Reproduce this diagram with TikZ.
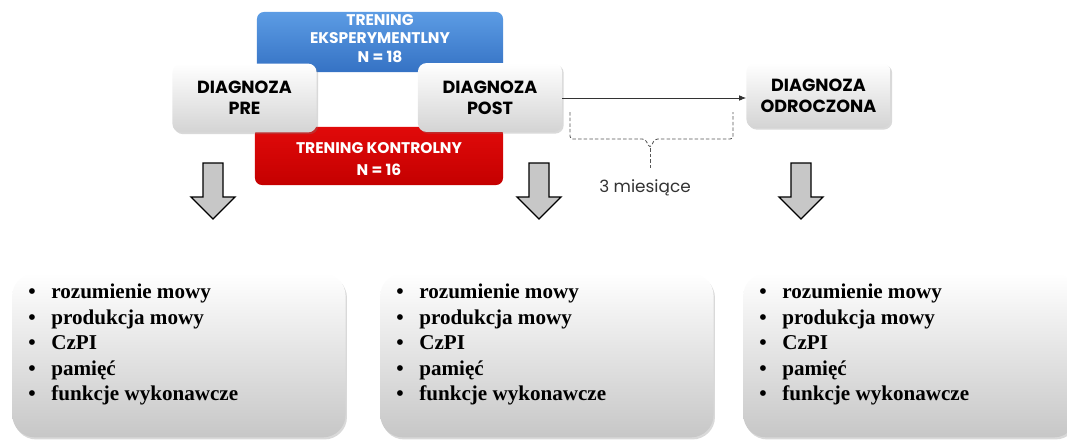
\documentclass[tikz,border=0pt]{standalone}
\usepackage{fontspec}
\setmainfont{Liberation Serif}
\newfontfamily\headfont{Poppins}
\usepackage{tikz}
\usetikzlibrary{arrows.meta}
\usetikzlibrary{shadows}
\usepackage{xcolor}
\definecolor{expblue}{HTML}{3572C4}
\definecolor{expbluetop}{HTML}{5C9CE4}
\definecolor{ctrlred}{HTML}{C40000}
\definecolor{ctrlredtop}{HTML}{E10A0A}
\definecolor{dashgray}{HTML}{555555}

\begin{document}
\begin{tikzpicture}[x=0.025cm, y=-0.025cm,
    diagbox/.style={rounded corners=6pt, top color=white, bottom color=black!17,
        drop shadow={shadow xshift=1.2pt, shadow yshift=-1.2pt, opacity=.3},
        align=center, inner sep=0pt, minimum width=3.6cm, minimum height=1.72cm,
        font=\headfont\bfseries\fontsize{12.5}{15}\selectfont},
    groupbox/.style={rounded corners=5pt, inner sep=0pt},
    grouptext/.style={text=white, align=center, inner sep=0pt,
        font=\headfont\bfseries\fontsize{11}{13.2}\selectfont},
    listbox/.style={rounded corners=16pt, top color=white, bottom color=black!22,
        drop shadow={shadow xshift=1pt, shadow yshift=-1.5pt, opacity=.3},
        minimum width=8.33cm, minimum height=4.1cm},
    listtext/.style={align=left, anchor=north west, inner sep=0pt,
        font=\bfseries\fontsize{15}{18.1}\selectfont},
    downarrow/.style={fill=black!22, draw=black, line width=0.9pt, line join=miter}]
    \useasboundingbox (0,0) rectangle (1067,441);
    % groups
    \node[groupbox, top color=expbluetop, bottom color=expblue, minimum width=6.15cm, minimum height=1.5cm] (expbox) at (380,42) {};
    \node[grouptext] (exptext) at (380,38.5) {TRENING\\EKSPERYMENTLNY\\N = 18};
    \node[groupbox, top color=ctrlredtop, bottom color=ctrlred, minimum width=6.2cm, minimum height=1.45cm] (ctrlbox) at (379,156) {};
    \node[grouptext, font=\headfont\bfseries\fontsize{11}{15.5}\selectfont] (ctrltext) at (379,159) {TRENING KONTROLNY\\N = 16};
    % diagnoses
    \node[diagbox] (pre) at (244.5,98) {DIAGNOZA\\PRE};
    \node[diagbox] (post) at (490,97.5) {DIAGNOZA\\POST};
    \node[diagbox, minimum height=1.62cm] (odr) at (818.5,95.5) {DIAGNOZA\\ODROCZONA};
    \draw[-{Latex[length=5pt, width=4pt]}, draw=black!80, line width=0.6pt] (post.east |- 0,98) -- (odr.west |- 0,98);
    % three months
    \draw[dashgray, dashed, dash pattern=on 2.5pt off 1.5pt, line width=0.6pt, rounded corners=2pt]
        (570,112) -- (570,139) -- (645,139) -- (650,148) -- (655,139) -- (733,139) -- (733,112);
    \draw[dashgray, dashed, dash pattern=on 2.5pt off 1.5pt, line width=0.6pt] (650,148) -- (650,168);
    \node[font=\headfont\fontsize{12}{14}\selectfont, text=black!80] (months) at (645,188) {3 miesiące};
    % down arrows
    \foreach \x in {213,539,801}
        \draw[downarrow] ({\x-10},163) -- ({\x+10},163) -- ({\x+10},197) -- ({\x+22},197)
            -- (\x,219) -- ({\x-22},197) -- ({\x-10},197) -- cycle;
    % result boxes
    \foreach \name/\x in {pre/12, post/380, odr/743} {
        \node[listbox, anchor=north west] (\name box) at (\x,273) {};
        \node[listtext] (\name list) at ({\x+16},284) {%
            \makebox[16.4pt][l]{\textbullet}rozumienie mowy\\
            \makebox[16.4pt][l]{\textbullet}produkcja mowy\\
            \makebox[16.4pt][l]{\textbullet}CzPI\\
            \makebox[16.4pt][l]{\textbullet}pamięć\\
            \makebox[16.4pt][l]{\textbullet}funkcje wykonawcze};
    }
\end{tikzpicture}
\end{document}
